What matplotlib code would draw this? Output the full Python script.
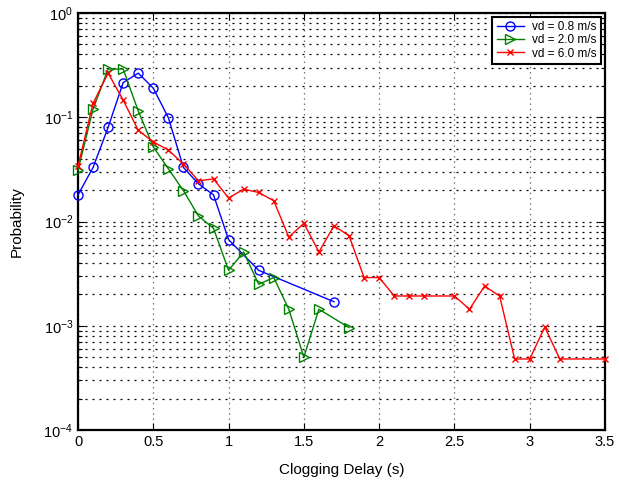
import matplotlib
matplotlib.use("Agg")
import matplotlib.pyplot as plt
from matplotlib.ticker import LogLocator, FuncFormatter, NullFormatter

plt.rcParams['font.family'] = ['Liberation Sans', 'DejaVu Sans']

# Data
x_08 = [0.0, 0.1, 0.2, 0.3, 0.4, 0.5, 0.6, 0.7, 0.8, 0.9, 1.0, 1.2, 1.7]
p_08 = [0.018, 0.033, 0.080, 0.215, 0.265, 0.19, 0.099, 0.033, 0.023, 0.018,
        0.0067, 0.0034, 0.0017]

x_20 = [0.0, 0.1, 0.2, 0.3, 0.4, 0.5, 0.6, 0.7, 0.8, 0.9, 1.0, 1.1, 1.2, 1.3,
        1.4, 1.5, 1.6, 1.8]
p_20 = [0.031, 0.12, 0.29, 0.29, 0.115, 0.052, 0.032, 0.0198, 0.0113, 0.0086,
        0.0034, 0.0051, 0.0025, 0.0029, 0.00144, 0.00050, 0.00144, 0.00096]

x_60 = [0.0, 0.1, 0.2, 0.3, 0.4, 0.5, 0.6, 0.7, 0.8, 0.9, 1.0, 1.1, 1.2, 1.3,
        1.4, 1.5, 1.6, 1.7, 1.8, 1.9, 2.0, 2.1, 2.2, 2.3, 2.5, 2.6, 2.7, 2.8,
        2.9, 3.0, 3.1, 3.2, 3.5]
p_60 = [0.034, 0.136, 0.265, 0.146, 0.075, 0.058, 0.0485, 0.0356, 0.0246, 0.0256,
        0.0168, 0.0204, 0.019, 0.0158, 0.0071, 0.0096, 0.0051, 0.0091, 0.0073,
        0.0029, 0.0029, 0.00193, 0.00193, 0.00193, 0.00193, 0.00144, 0.0024,
        0.00193, 0.00048, 0.00048, 0.00097, 0.00048, 0.00048]

labels = ['vd = 0.8 m/s', 'vd = 2.0 m/s', 'vd = 6.0 m/s']
xticks = [0, 0.5, 1, 1.5, 2, 2.5, 3, 3.5]

fig = plt.figure(figsize=(6.19, 4.83), dpi=100)
ax = fig.add_axes([78/619, 1-430/483, (605-78)/619, (430-13)/483])

ax.plot(x_08, p_08, color='blue', marker='o', ms=6.5, mfc='none', mew=1.0, lw=1.0,
        label=labels[0], clip_on=False, zorder=3)
ax.plot(x_20, p_20, color='green', marker='>', ms=7, mfc='none', mew=1.0, lw=1.0,
        label=labels[1], clip_on=False, zorder=3)
ax.plot(x_60, p_60, color='red', marker='x', ms=4, mew=1.0, lw=1.0,
        label=labels[2], clip_on=False, zorder=3)

ax.set_yscale('log')
ax.set_ylim(1e-4, 1)
ax.set_xlim(0, 3.5)
ax.set_xticks(xticks)
ax.xaxis.set_major_formatter(FuncFormatter(lambda v, p: '%g' % v))
ax.yaxis.set_major_locator(LogLocator(base=10, numticks=10))
ax.yaxis.set_minor_locator(LogLocator(base=10, subs=range(2, 10), numticks=20))
ax.yaxis.set_minor_formatter(NullFormatter())

ax.grid(which='both', axis='y', color='black', lw=0.9, ls=(0, (1.6, 4.0)))
ax.grid(which='major', axis='x', color='0.45', lw=0.9, ls=(0, (1.2, 3.0)))

ax.tick_params(which='both', direction='in', top=True, right=True, labelsize=10.5)
ax.tick_params(which='major', length=5, width=0.8)
ax.tick_params(which='minor', length=3, width=0.8)
for s in ax.spines.values():
    s.set_linewidth(1.6)

ax.set_xlabel('Clogging Delay (s)', fontsize=11, labelpad=10)
ax.set_ylabel('Probability', fontsize=11, labelpad=14)

leg = ax.legend(loc='upper right', fontsize=8.5, fancybox=False, framealpha=1,
                edgecolor='black', borderpad=0.4, labelspacing=0.1,
                handlelength=2.3, handletextpad=0.7, borderaxespad=0.3)
leg.get_frame().set_linewidth(1.5)

fig.savefig('out.png', dpi=100)
